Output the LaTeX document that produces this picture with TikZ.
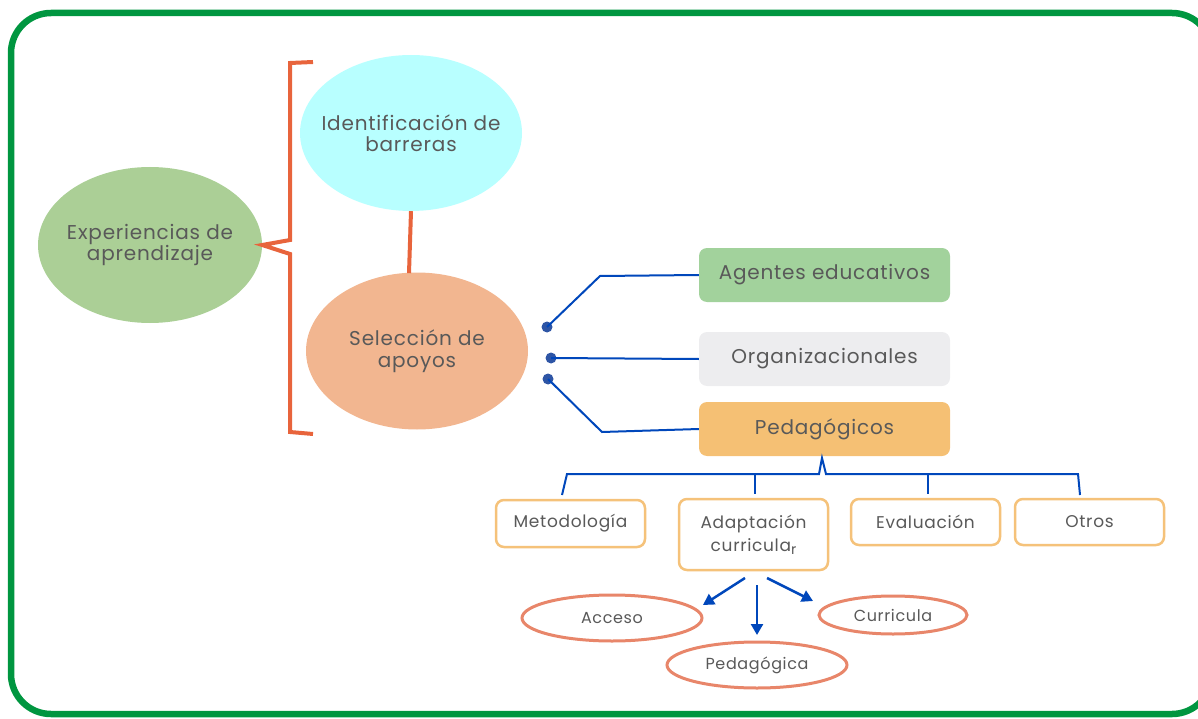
\documentclass[tikz,border=0pt]{standalone}
\usepackage{fontspec}
\setmainfont{Poppins}[LetterSpace=4.0]
\usetikzlibrary{shapes.geometric,arrows.meta}
\definecolor{txt}{HTML}{595959}
\definecolor{frame}{HTML}{009640}
\definecolor{brk}{HTML}{E8643C}
\definecolor{blu}{HTML}{0047BB}
\definecolor{dotc}{HTML}{2E55A5}
\definecolor{expc}{HTML}{ABCF96}
\definecolor{idc}{HTML}{B8FFFF}
\definecolor{selc}{HTML}{F2B690}
\definecolor{agc}{HTML}{A2D29C}
\definecolor{orgc}{HTML}{EDEDEF}
\definecolor{pedc}{HTML}{F5C074}
\definecolor{boxo}{HTML}{F5C27A}
\definecolor{ello}{HTML}{E8866A}
\tikzset{
  bigell/.style={ellipse, minimum width=224pt, minimum height=156pt, inner xsep=-35pt, inner ysep=-10pt, align=center, text=txt, font=\fontsize{20}{21.5}\selectfont},
  catbox/.style={rounded corners=8pt, minimum width=251pt, minimum height=54pt, inner sep=0pt, text=txt, font=\fontsize{20}{22}\selectfont},
  subbox/.style={draw=boxo, line width=2.5pt, fill=white, rounded corners=8pt, minimum width=149pt, inner sep=0pt, align=center, text=txt, font=\fontsize{17}{26}\selectfont},
  smell/.style={ellipse, draw=ello, line width=3pt, fill=white, inner xsep=-20pt, inner ysep=-6pt, text=txt, font=\fontsize{16}{18}\selectfont},
  bconn/.style={draw=blu, line width=2pt},
  barrow/.style={draw=blu, line width=2.5pt, -{Triangle[length=11pt,width=12pt]}},
  bdot/.style={circle, fill=dotc, minimum size=11pt, inner sep=0pt},
  orange/.style={draw=brk, line width=4pt}
}
\begin{document}
\begin{tikzpicture}[x=1pt,y=-1pt]
\useasboundingbox (0,0) rectangle (1198,719);
\draw[frame, line width=6.5pt, rounded corners=40pt] (11,13) rectangle (1212,714);

\node[bigell, fill=expc] (exp) at (150,245) {Experiencias de\\aprendizaje};
\node[bigell, fill=idc, minimum width=222pt] (ide) at (411,133) {Identificación de\\barreras};
\node[bigell, fill=selc, minimum width=222pt, minimum height=157pt] (sel) at (417,351) {Selección de\\apoyos};

\draw[orange] (313,62) -- (290,63) -- (290,240) -- (exp.east) -- (290,254) -- (290,432) -- (313,434);
\draw[orange] (ide.south) -- ++(-2,62);

\node[catbox, fill=agc] (age) at (824.5,275) {Agentes educativos};
\node[catbox, fill=orgc] (org) at (824.5,359) {Organizacionales};
\node[catbox, fill=pedc] (ped) at (824.5,429) {Pedagógicos};

\node[bdot] (d1) at (547,327) {};
\node[bdot] (d2) at (551,358) {};
\node[bdot] (d3) at (548,379) {};
\draw[bconn] (d1.center) -- (600,276) -- (age.west);
\draw[bconn] (d2.center) -- (org.west);
\draw[bconn] (d3.center) -- (602,432) -- (ped.west);

\node[subbox, minimum height=47pt] (met) at (570.5,523.5) {Metodología};
\node[subbox, minimum height=71pt] (ada) at (753.5,534.5) {\raisebox{-3pt}{Adaptación}\\curricula\raisebox{-3pt}{\fontsize{14}{14}\selectfont r}};
\node[subbox, minimum height=46pt] (eva) at (925.5,522) {Evaluación};
\node[subbox, minimum height=46pt] (otr) at (1089.5,522) {Otros};

\coordinate (tip) at (822,458);
\draw[bconn] (562,495) -- (567,474) -- (819,474) -- (tip) -- (826,474) -- (1078,474) -- (1080,495);
\draw[bconn] (755,474) -- (755,494);
\draw[bconn] (928,474) -- (928,494);

\node[smell, minimum width=180pt, minimum height=46pt] (acc) at (612,618) {Acceso};
\node[smell, minimum width=180pt, minimum height=46pt] (pga) at (757,665) {Pedagógica};
\node[smell, minimum width=148pt, minimum height=38pt] (cur) at (893,615) {Curricula};

\draw[barrow] (745,578) -- (703,605);
\draw[barrow] (757,585) -- (757,635);
\draw[barrow] (767,578) -- (813,601);
\end{tikzpicture}
\end{document}
